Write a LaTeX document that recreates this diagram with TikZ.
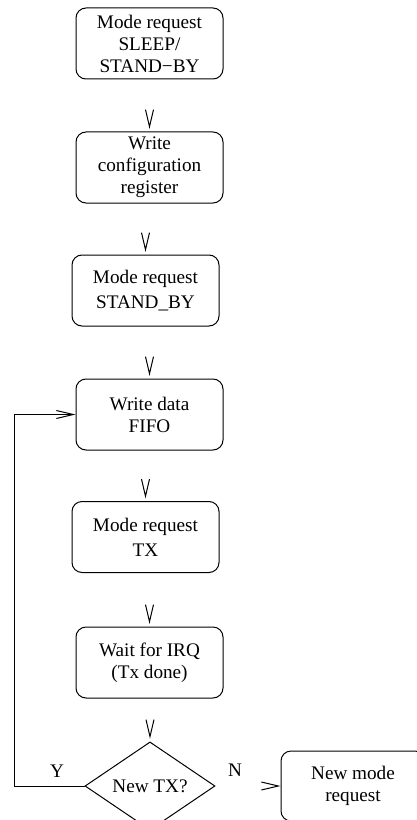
\documentclass[tikz,border=0pt]{standalone}
\usepackage{fontspec}
\setmainfont{Liberation Serif}
\usetikzlibrary{arrows.meta,shapes.geometric}

\tikzset{every picture/.style={line width=0.75pt}}
\tikzset{
  stepbox/.style={draw, rounded corners=7.5pt, minimum width=110.25pt, minimum height=53.25pt, inner sep=0pt, align=center, font=\fontsize{14.4}{16.5}\selectfont},
  testbox/.style={draw, diamond, minimum width=97.5pt, minimum height=52.5pt, inner sep=0pt, font=\fontsize{14.4}{16.5}\selectfont},
  tagtext/.style={inner sep=0pt, font=\fontsize{14.4}{16.5}\selectfont},
  vtip/.style={white, shorten <=2pt, shorten >=2pt, -{Straight Barb[length=12.75pt,width=6pt,black]}},
  looptip/.style={-{Straight Barb[length=12.75pt,width=6pt]}},
}

\begin{document}
\begin{tikzpicture}[x=0.75pt,y=0.75pt,yscale=-1,xscale=1]
%set diagram left start at 0, and has height of 820
\clip (0,0) rectangle (417,820);

%Shape: Rounded Rect [id:req_sleep]
\node [stepbox] (reqsleep) at (149.5,43.5) {Mode request\\SLEEP/\\STAND{\textminus}BY};
%Shape: Rounded Rect [id:wr_config]
\node [stepbox] (wrconfig) at (149.5,167.5) {Write\\configuration\\register};
%Shape: Rounded Rect [id:req_standby]
\node [stepbox] (reqstandby) at (145.5,290.5) {Mode request\\[2pt]STAND\_BY};
%Shape: Rounded Rect [id:wr_fifo]
\node [stepbox] (wrfifo) at (149.5,414.5) {Write data\\FIFO};
%Shape: Rounded Rect [id:req_tx]
\node [stepbox] (reqtx) at (145.5,537) {Mode request\\[2pt]TX};
%Shape: Rounded Rect [id:wait_irq]
\node [stepbox] (waitirq) at (149.5,662.5) {Wait for IRQ\\(Tx done)};
%Shape: Diamond [id:new_tx]
\node [testbox] (newtx) at (150,786) {New TX?};
%Shape: Rounded Rect [id:new_mode]
\node [stepbox, minimum width=108pt, minimum height=52.5pt] (newmode) at (353,786) {New mode\\request};

%Straight Lines [id:steps]
\draw [vtip] (reqsleep.south -| wrconfig.north) -- (wrconfig.north);
\draw [vtip] (wrconfig.south -| reqstandby.north) -- (reqstandby.north);
\draw [vtip] (reqstandby.south -| wrfifo.north) -- (wrfifo.north);
\draw [vtip] (wrfifo.south -| reqtx.north) -- (reqtx.north);
\draw [vtip] (reqtx.south -| waitirq.north) -- (waitirq.north);
\draw [vtip] (waitirq.south -| newtx.north) -- (newtx.north);
\draw [vtip, shorten >=0pt] (newtx.east) -- (newmode.west);

%Straight Lines [id:loop_back]
\coordinate (loopcorner) at (14,786);
\draw [looptip] (newtx.west) -- (loopcorner) |- (wrfifo.west);

% Text Node
\node [tagtext] (yes) at (57,771) {Y};
% Text Node
\node [tagtext] (no) at (235,770) {N};

\end{tikzpicture}
\end{document}
